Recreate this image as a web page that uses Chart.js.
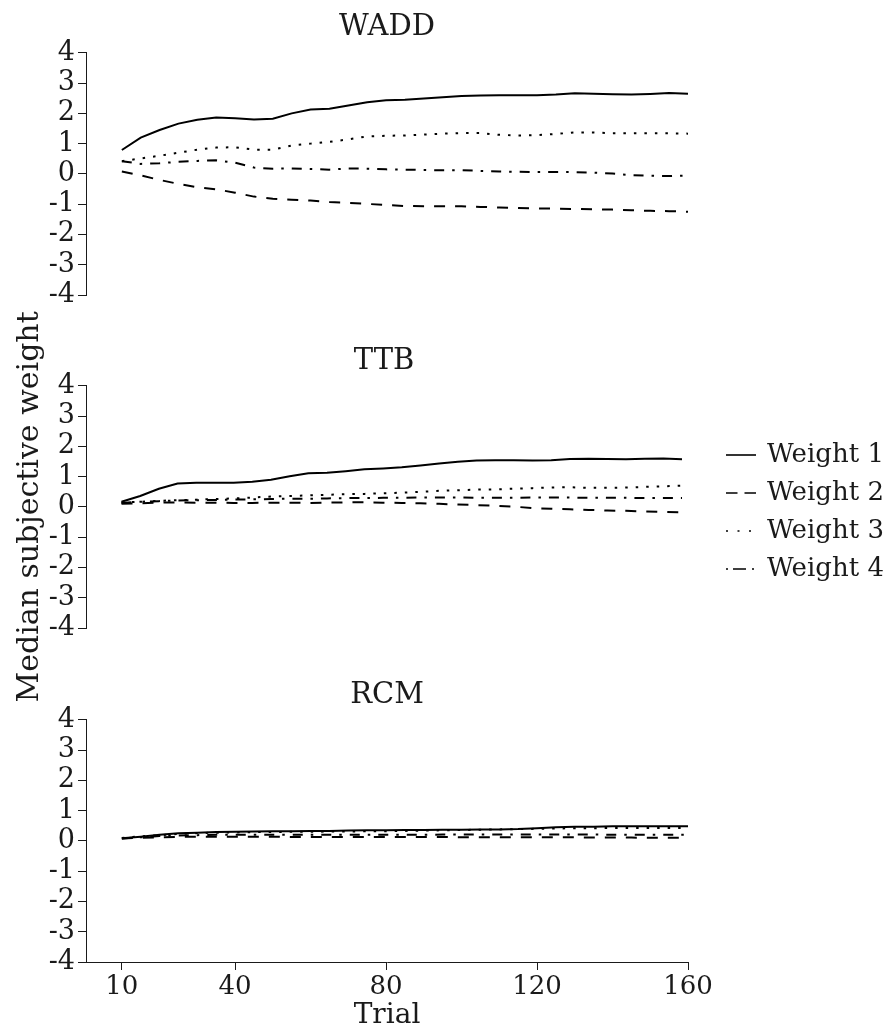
<!DOCTYPE html>
<html>
<head>
<meta charset="utf-8">
<script src="https://cdn.jsdelivr.net/npm/chart.js@4.4.1/dist/chart.umd.min.js"></script>
<style>
  html, body { margin: 0; padding: 0; background: #fff; }
  body { width: 893px; height: 1028px; overflow: hidden; position: relative; }
  canvas { position: absolute; left: 0; }
</style>
</head>
<body>
<canvas id="wadd" width="893" height="330" style="top:0px"></canvas>
<canvas id="ttb"  width="893" height="440" style="top:290px"></canvas>
<canvas id="rcm"  width="893" height="380" style="top:665px"></canvas>
<script>
// ─── Data ─────────────────────────────────────────────

const trials = [10, 15, 20, 25, 30, 35, 40, 45, 50, 55, 60, 65, 70, 75, 80, 85,
                90, 95, 100, 105, 110, 115, 120, 125, 130, 135, 140, 145, 150, 155, 160];

const seriesNames = ['Weight 1', 'Weight 2', 'Weight 3', 'Weight 4'];
const xTicks = [10, 40, 80, 120, 160];

// WADD
const waddW1 = [0.79, 1.20, 1.45, 1.66, 1.79, 1.86, 1.84, 1.80, 1.82, 2.00, 2.13, 2.15, 2.26, 2.37, 2.43, 2.45,
                2.49, 2.53, 2.57, 2.59, 2.60, 2.60, 2.60, 2.62, 2.66, 2.65, 2.63, 2.62, 2.64, 2.67, 2.65];
const waddW2 = [0.08, -0.05, -0.20, -0.33, -0.44, -0.51, -0.62, -0.75, -0.82, -0.85, -0.88, -0.93, -0.96, -0.99, -1.03, -1.06,
                -1.07, -1.07, -1.07, -1.09, -1.11, -1.13, -1.14, -1.15, -1.16, -1.17, -1.18, -1.20, -1.22, -1.23, -1.25];
const waddW3 = [0.42, 0.51, 0.60, 0.70, 0.80, 0.87, 0.88, 0.80, 0.80, 0.94, 1.00, 1.06, 1.14, 1.24, 1.26, 1.27,
                1.30, 1.33, 1.35, 1.35, 1.29, 1.27, 1.28, 1.32, 1.37, 1.37, 1.34, 1.34, 1.34, 1.34, 1.33];
const waddW4 = [0.42, 0.33, 0.35, 0.40, 0.43, 0.45, 0.37, 0.21, 0.17, 0.18, 0.16, 0.14, 0.18, 0.17, 0.15, 0.14,
                0.13, 0.12, 0.12, 0.10, 0.08, 0.07, 0.06, 0.06, 0.06, 0.04, 0.01, -0.04, -0.06, -0.07, -0.06];

// TTB
const ttbW1 = [0.17, 0.36, 0.60, 0.77, 0.80, 0.80, 0.80, 0.83, 0.90, 1.01, 1.11, 1.13, 1.18, 1.24, 1.27, 1.31,
               1.37, 1.43, 1.49, 1.53, 1.54, 1.54, 1.53, 1.54, 1.58, 1.59, 1.58, 1.57, 1.59, 1.60, 1.57];
const ttbW2 = [0.10, 0.12, 0.14, 0.15, 0.14, 0.14, 0.13, 0.13, 0.14, 0.14, 0.13, 0.14, 0.15, 0.15, 0.14, 0.13,
               0.12, 0.10, 0.08, 0.06, 0.04, 0.01, -0.04, -0.06, -0.08, -0.10, -0.12, -0.13, -0.15, -0.17, -0.18];
const ttbW3 = [0.15, 0.17, 0.20, 0.22, 0.24, 0.26, 0.28, 0.31, 0.34, 0.36, 0.38, 0.40, 0.42, 0.43, 0.45, 0.47,
               0.50, 0.53, 0.55, 0.57, 0.58, 0.60, 0.62, 0.64, 0.65, 0.63, 0.63, 0.64, 0.66, 0.68, 0.70];
const ttbW4 = [0.13, 0.17, 0.19, 0.21, 0.22, 0.23, 0.24, 0.25, 0.26, 0.27, 0.27, 0.28, 0.29, 0.29, 0.30, 0.30,
               0.31, 0.31, 0.31, 0.30, 0.30, 0.30, 0.31, 0.31, 0.31, 0.30, 0.30, 0.30, 0.29, 0.29, 0.29];

// RCM
const rcmW1 = [0.09, 0.14, 0.20, 0.25, 0.27, 0.29, 0.30, 0.31, 0.32, 0.32, 0.33, 0.33, 0.34, 0.35, 0.35, 0.36,
               0.36, 0.37, 0.37, 0.38, 0.38, 0.39, 0.42, 0.45, 0.47, 0.47, 0.48, 0.48, 0.48, 0.48, 0.48];
const rcmW2 = [0.08, 0.10, 0.12, 0.13, 0.14, 0.14, 0.14, 0.14, 0.14, 0.13, 0.13, 0.13, 0.13, 0.13, 0.13, 0.13,
               0.13, 0.13, 0.12, 0.12, 0.12, 0.12, 0.12, 0.12, 0.12, 0.11, 0.11, 0.11, 0.10, 0.10, 0.10];
const rcmW3 = [0.10, 0.15, 0.19, 0.23, 0.26, 0.27, 0.28, 0.29, 0.29, 0.30, 0.30, 0.31, 0.31, 0.32, 0.32, 0.33,
               0.34, 0.35, 0.36, 0.37, 0.38, 0.39, 0.40, 0.41, 0.42, 0.42, 0.43, 0.43, 0.43, 0.43, 0.43];
const rcmW4 = [0.08, 0.12, 0.16, 0.18, 0.19, 0.20, 0.20, 0.20, 0.20, 0.20, 0.20, 0.20, 0.20, 0.20, 0.20, 0.20,
               0.20, 0.21, 0.21, 0.21, 0.21, 0.21, 0.21, 0.21, 0.21, 0.21, 0.20, 0.20, 0.20, 0.20, 0.20];

// ─── Styles ───────────────────────────────────────────

const FONT = "'DejaVu Serif', serif";
const INK = '#1a1a1a';
const dashes = [[], [11, 10], [2.5, 8], [10, 8, 2.5, 8]];
const legendDashes = [[], [11.5, 7], [2, 9.5], [2, 5, 13, 6, 2, 10]];

// plot area edges (page px) shared by the three panels
const AREA_LEFT = 86, AREA_RIGHT = 688;

// small line samples for the legend (pointStyle images)
function sample(dash) {
  const c = document.createElement('canvas');
  c.width = 30; c.height = 4;
  const g = c.getContext('2d');
  g.strokeStyle = '#000';
  g.lineWidth = 1.6;
  g.setLineDash(dash);
  g.beginPath(); g.moveTo(0, 2); g.lineTo(30, 2); g.stroke();
  return c;
}
const legendSamples = legendDashes.map(sample);

// ─── Panel builder ────────────────────────────────────

function panel(id, title, series, o) {
  const datasets = series.map((vals, i) => ({
    label: seriesNames[i],
    data: trials.map((t, k) => ({ x: t, y: vals[k] })),
    borderColor: '#000',
    borderWidth: 2,
    borderDash: dashes[i],
    pointRadius: 0,
    tension: 0,
    fill: false,
  }));

  const legendShift = {
    id: 'legendShift',
    afterLayout(chart) {
      const lg = chart.legend;
      if (!o.legend || !lg) return;
      const dx = o.legendLeft - lg.left;
      const dy = o.legendMid - (lg.top + lg.bottom) / 2;
      lg.left += dx; lg.right += dx;
      lg.top += dy; lg.bottom += dy;
    },
  };

  const chart = new Chart(document.getElementById(id), {
    type: 'line',
    data: { datasets },
    plugins: [legendShift],
    options: {
      responsive: false,
      animation: false,
      layout: { padding: { left: 0, right: 205, top: 0, bottom: o.padBottom } },
      scales: {
        x: {
          type: 'linear',
          display: !!o.xAxis,
          min: 0.5, max: 160,
          afterBuildTicks: s => { s.ticks = xTicks.map(v => ({ value: v })); },
          grid: { display: true, drawOnChartArea: false, drawTicks: true, tickLength: 8, color: INK },
          border: { display: true, color: INK, width: 1 },
          ticks: { color: INK, font: { family: FONT, size: 26 }, padding: 2, maxRotation: 0, autoSkip: false },
          title: { display: !!o.xAxis, text: 'Trial', color: INK, font: { family: FONT, size: 28 }, padding: { top: -6, bottom: 0 } },
        },
        y: {
          min: -4, max: 4,
          afterFit: s => { s.width = AREA_LEFT; },
          grid: { display: true, drawOnChartArea: false, drawTicks: true, tickLength: 8, color: INK },
          border: { display: true, color: INK, width: 1 },
          ticks: { stepSize: 1, autoSkip: false, color: INK, font: { family: FONT, size: 27 }, padding: 3 },
          title: {
            display: !!o.yTitle, text: 'Median subjective weight', color: INK,
            font: { family: FONT, size: 30 }, padding: { top: 12, bottom: 0 },
          },
        },
      },
      plugins: {
        title: {
          display: true, text: title, color: INK, fullSize: false,
          font: { family: FONT, size: 29, weight: 'normal' },
          padding: { top: o.titleTop, bottom: o.titleBottom },
        },
        legend: {
          display: !!o.legend,
          position: 'right',
          labels: {
            color: INK,
            font: { family: FONT, size: 26 },
            usePointStyle: true,
            pointStyleWidth: 26,
            padding: 12,
            generateLabels: ch => Chart.defaults.plugins.legend.labels.generateLabels(ch)
              .map((it, i) => ({ ...it, pointStyle: legendSamples[i] })),
          },
        },
        tooltip: { enabled: false },
      },
    },
  });

  // pin the plot area so all three panels share the same x mapping
  const a = chart.chartArea;
  const p = chart.options.layout.padding;
  p.right += a.right - AREA_RIGHT;
  p.bottom += a.bottom - o.areaBottom;
  chart.update('none');
  return chart;
}

panel('wadd', 'WADD', [waddW1, waddW2, waddW3, waddW4],
      { titleTop: 10, titleBottom: 8, padBottom: 30, areaBottom: 295 });
panel('ttb', 'TTB', [ttbW1, ttbW2, ttbW3, ttbW4],
      { titleTop: 54, titleBottom: 7, padBottom: 60, areaBottom: 338,
        legend: true, legendLeft: 716, legendMid: 222, yTitle: true });
panel('rcm', 'RCM', [rcmW1, rcmW2, rcmW3, rcmW4],
      { titleTop: 13, titleBottom: 7, padBottom: 20, areaBottom: 297, xAxis: true });
</script>
</body>
</html>
